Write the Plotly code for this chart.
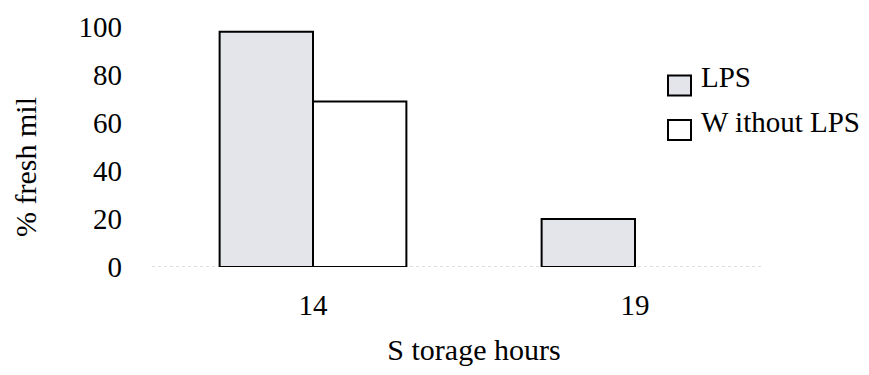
import plotly.graph_objects as go

# Storage time categories and % fresh milk for each treatment
hours = ["14", "19"]
lps = [98, 20]
without_lps = [69, 0]
y_ticks = [0, 20, 40, 60, 80, 100]

FONT = "Liberation Serif, Times New Roman, serif"
LPS_FILL = "#e3e5ea"

W, H = 869, 375
L, R, T, B = 152, 73, 27, 108
plot_w = W - L - R
plot_h = H - T - B


def px_to_paper(px, py):
    return (px - L) / plot_w, (H - B - py) / plot_h


fig = go.Figure()
fig.add_trace(go.Bar(x=hours, y=lps, name="LPS",
                     marker=dict(color=LPS_FILL, line=dict(color="black", width=2)),
                     showlegend=False))
# no outline for empty (zero-height) bars
fig.add_trace(go.Bar(x=hours, y=without_lps, name="Without LPS",
                     marker=dict(color="white",
                                 line=dict(color="black",
                                           width=[2 if v > 0 else 0 for v in without_lps])),
                     showlegend=False))

# faint dotted baseline
fig.add_shape(type="line", xref="paper", yref="y", x0=0, x1=0.95, y0=0, y1=0,
              line=dict(color="#d4d4d4", width=1.5, dash="dot"), layer="below")

# hand-placed legend: square swatches with labels
legend_items = [("LPS", LPS_FILL, 85.5, 77), ("W ithout LPS", "white", 130, 122)]
for label, fill, sy, ty in legend_items:
    x0, y0 = px_to_paper(668, sy + 10)
    x1, y1 = px_to_paper(691, sy - 10)
    fig.add_shape(type="rect", xref="paper", yref="paper", x0=x0, x1=x1, y0=y0, y1=y1,
                  fillcolor=fill, line=dict(color="black", width=2))
    tx, tyy = px_to_paper(699, ty)
    fig.add_annotation(text=label, xref="paper", yref="paper", x=tx, y=tyy,
                       xanchor="left", yanchor="middle", showarrow=False,
                       font=dict(family=FONT, size=29, color="black"))

# y-axis title
ax, ay = px_to_paper(26, 167)
fig.add_annotation(text="% fresh mil", xref="paper", yref="paper", x=ax, y=ay,
                   xanchor="center", yanchor="middle", textangle=-90, showarrow=False,
                   font=dict(family=FONT, size=30, color="black"))

fig.update_layout(
    width=W, height=H,
    margin=dict(l=L, r=R, t=T, b=B),
    paper_bgcolor="white", plot_bgcolor="white",
    barmode="group", bargap=0.42, bargroupgap=0,
    font=dict(family=FONT, color="black"),
    xaxis=dict(
        showgrid=False, showline=False, zeroline=False, ticks="",
        tickfont=dict(family=FONT, size=29),
        ticklabelstandoff=18,
        title=dict(text="S torage hours", font=dict(family=FONT, size=30), standoff=18),
    ),
    yaxis=dict(
        range=[0, 100], tickvals=y_ticks, showgrid=False, showline=False,
        zeroline=False, ticks="",
        tickfont=dict(family=FONT, size=29),
        ticklabelstandoff=29,
    ),
)

fig.write_html("out.html")
